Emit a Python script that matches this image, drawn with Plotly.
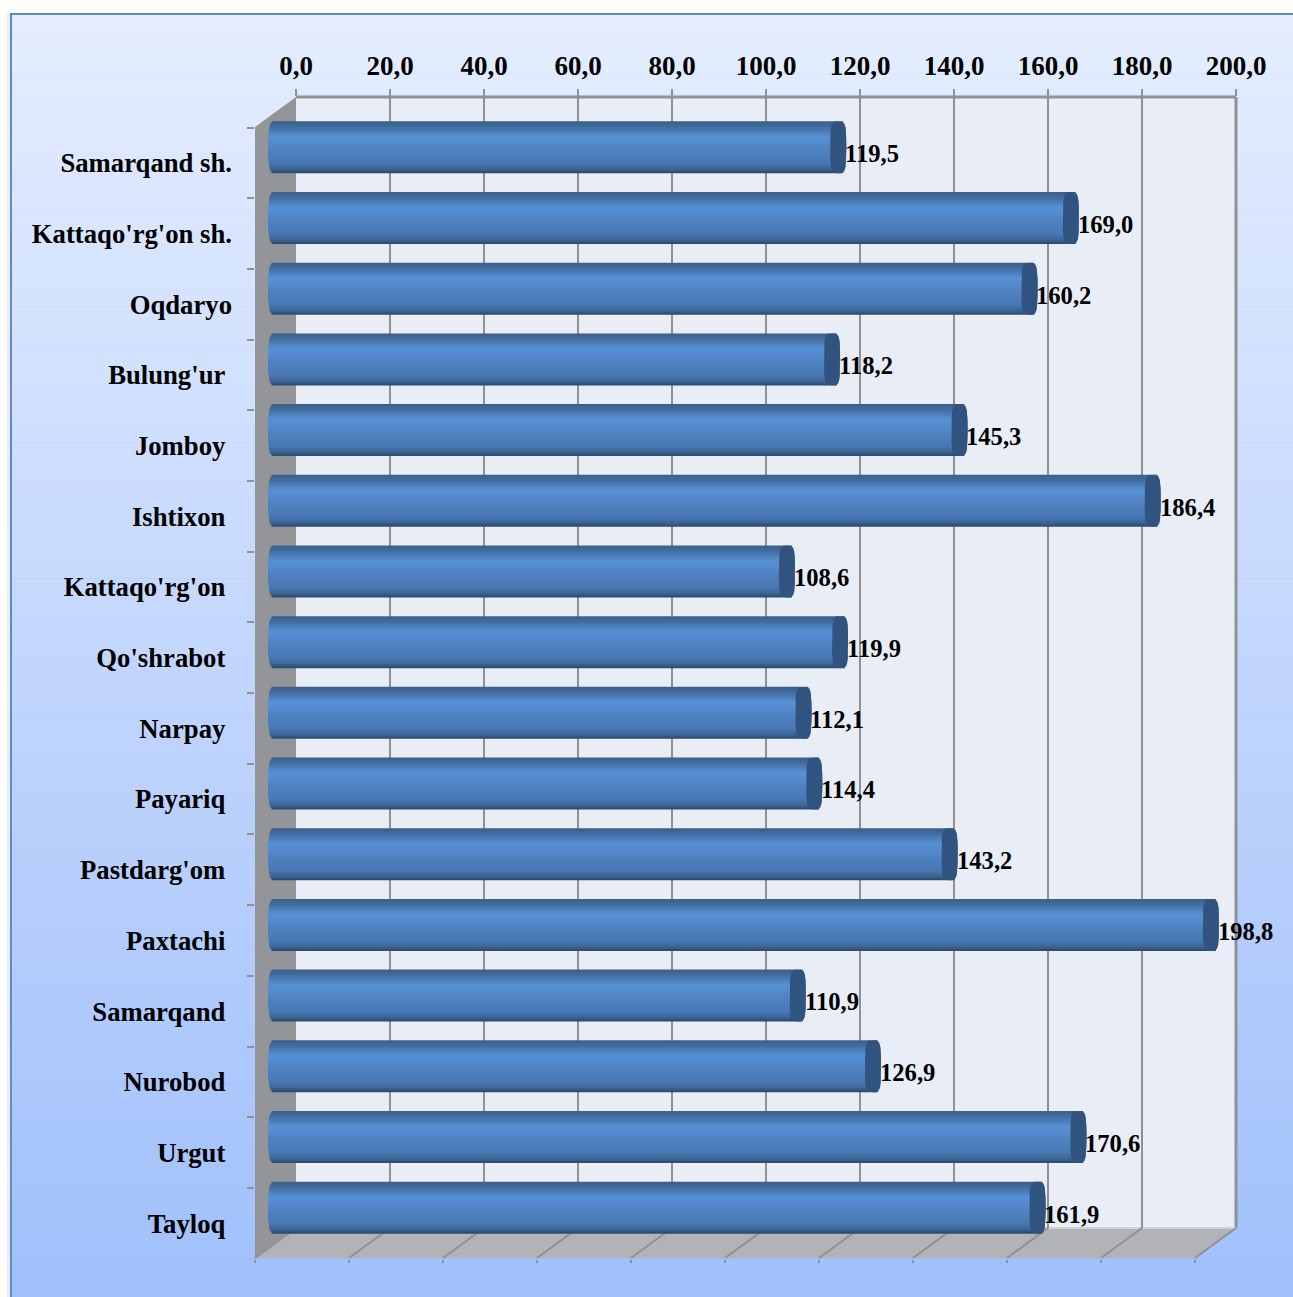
import numpy as np
import plotly.graph_objects as go

categories = ["Samarqand sh.", "Kattaqo'rg'on sh.", "Oqdaryo", "Bulung'ur\u00a0", "Jomboy\u00a0", "Ishtixon\u00a0",
              "Kattaqo'rg'on\u00a0", "Qo'shrabot\u00a0", "Narpay\u00a0", "Payariq\u00a0", "Pastdarg'om\u00a0",
              "Paxtachi\u00a0", "Samarqand\u00a0", "Nurobod\u00a0", "Urgut\u00a0", "Tayloq\u00a0"]
values = [119.5, 169.0, 160.2, 118.2, 145.3, 186.4, 108.6, 119.9, 112.1, 114.4, 143.2, 198.8, 110.9, 126.9, 170.6, 161.9]
tick_values = [0, 20, 40, 60, 80, 100, 120, 140, 160, 180, 200]

W, H = 1293, 1297
FONT = "Liberation Serif"
GRID = "#8f9193"
# vertical shading of the cylinders, (position, rgb)
shade_stops = [(0.0, (58, 94, 138)), (0.10, (66, 108, 158)), (0.30, (88, 145, 214)), (0.55, (80, 130, 194)),
               (0.80, (73, 120, 180)), (0.92, (60, 100, 150)), (1.0, (42, 70, 104))]
bg_top, bg_bottom = (228, 237, 255), (161, 192, 251)

px = lambda x: x / W
py = lambda y: 1 - y / H

def hex_mix(t, stops):
    pos = [s[0] for s in stops]
    return "rgb({},{},{})".format(*[int(round(np.interp(t, pos, [s[1][i] for s in stops]))) for i in range(3)])

def paper_rect(x0, y0, x1, y1, color):
    return dict(type="rect", xref="paper", yref="paper", x0=px(x0), x1=px(x1), y0=py(y0), y1=py(y1),
                fillcolor=color, line_width=0, layer="below")

def paper_poly(points, color, line=None):
    path = "M" + " L".join(f"{px(x)},{py(y)}" for x, y in points) + " Z"
    return dict(type="path", xref="paper", yref="paper", path=path, fillcolor=color,
                line=dict(width=0) if line is None else line, layer="below")

def paper_line(x0, y0, x1, y1, color, width=2):
    return dict(type="line", xref="paper", yref="paper", x0=px(x0), x1=px(x1), y0=py(y0), y1=py(y1),
                line=dict(color=color, width=width), layer="below")

# frame and background
shapes = [paper_rect(7, 13, W, H, "#eeeeee"), paper_rect(10, 13, W, H, "#5b8bc9")]
n_bg = 66
for i in range(n_bg):
    t = i / (n_bg - 1)
    color = "rgb({},{},{})".format(*[int(round(a + (b - a) * t)) for a, b in zip(bg_top, bg_bottom)])
    y0 = 15 + (H - 15) * i / n_bg
    y1 = 15 + (H - 15) * (i + 1) / n_bg
    shapes.append(paper_rect(12, y0, W, y1 + 0.5, color))

# 3d box: back wall, left wall, floor
shapes.append(paper_rect(296, 97, 1236, 1228, "#e9edf6"))
shapes.append(paper_poly([(296, 97), (255, 127), (255, 1258), (296, 1228)], "#939598"))
shapes.append(paper_poly([(255, 1258), (296, 1228), (1236, 1228), (1195, 1258)], "#b1b3b6"))
shapes.append(paper_line(296, 97, 1236, 97, GRID, 3))
shapes.append(paper_line(1236, 97, 1236, 1228, GRID, 3))
shapes.append(paper_line(296, 1228, 1236, 1228, "#d0d2d6", 2))
for v in tick_values:
    back = 296 + v * 4.7
    shapes.append(paper_line(back, 1228, back - 41, 1258, GRID, 2))

fig = go.Figure()

# back wall axis (top ticks and gridlines)
fig.add_trace(go.Scatter(x=values, y=values, mode="markers", marker_opacity=0, showlegend=False, hoverinfo="skip",
                         xaxis="x", yaxis="y"))

# cylinders: stacked bars make up the vertical shading, painted from both edges towards the middle
y_pos = np.arange(len(categories))
bar_w = 52 / 70.7
cap_hw = 8 / 4.7
cap_n = 4
n_bands = 26
band_order = [i for pair in zip(range(n_bands // 2), range(n_bands - 1, n_bands // 2 - 1, -1)) for i in pair]
for b in band_order:
    t = (b + 0.5) / n_bands
    e = cap_hw * (1 - abs(2 * t - 1) ** cap_n) ** (1 / cap_n)
    if b < n_bands // 2:
        off, wid = -bar_w / 2 + bar_w * b / n_bands, bar_w * (0.5 - b / n_bands) + 0.01
    else:
        off, wid = -0.01, bar_w * ((b + 1) / n_bands - 0.5) + 0.01
    fig.add_trace(go.Bar(y=y_pos, x=[v + 2 * e for v in values], base=-e, orientation="h", width=wid, offset=off,
                         marker=dict(color=hex_mix(t, shade_stops), line_width=0), cliponaxis=False,
                         showlegend=False, hoverinfo="skip", xaxis="x2", yaxis="y2"))

# end caps
th = np.linspace(0, 2 * np.pi, 73)
cap_x, cap_y = [], []
for v, p in zip(values, y_pos):
    cap_x += list(v + cap_hw * np.sign(np.cos(th)) * np.abs(np.cos(th)) ** (2 / cap_n)) + [None]
    cap_y += list(p + bar_w / 2 * np.sign(np.sin(th)) * np.abs(np.sin(th)) ** (2 / cap_n)) + [None]
fig.add_trace(go.Scatter(x=cap_x, y=cap_y, mode="lines", fill="toself", fillcolor="#30547f", line=dict(width=0),
                         cliponaxis=False, showlegend=False, hoverinfo="skip", xaxis="x2", yaxis="y2"))

# front axis carrying the category labels
fig.add_trace(go.Scatter(x=values, y=categories, mode="markers", marker_opacity=0, showlegend=False, hoverinfo="skip",
                         xaxis="x3", yaxis="y3"))

annotations = [dict(x=v, y=p, xref="x2", yref="y2", text=f"{v:.1f}".replace(".", ","), showarrow=False,
                    xanchor="left", yanchor="middle", xshift=cap_hw * 4.7 - 1, yshift=-6.4, borderpad=0, borderwidth=0,
                    font=dict(family=FONT, size=24.6, color="#000000", weight="bold"))
               for v, p in zip(values, y_pos)]

fig.update_layout(
    width=W, height=H, margin=dict(l=0, r=0, t=0, b=0), autosize=False,
    paper_bgcolor="white", plot_bgcolor="rgba(0,0,0,0)", barmode="overlay", separators=",.",
    shapes=shapes, annotations=annotations, hovermode=False,
    xaxis=dict(domain=[px(296), px(1236)], range=[0, 200], side="top", anchor="y", tickvals=tick_values,
               tickformat=".1f", ticks="outside", ticklen=7, tickwidth=2, tickcolor=GRID, showgrid=True,
               gridcolor=GRID, gridwidth=2, zeroline=False, showline=False, automargin=False, ticklabelstandoff=3,
               tickfont=dict(family=FONT, size=27, color="#000000", weight="bold")),
    yaxis=dict(domain=[py(1228), py(97)], range=[0, 1], anchor="x", visible=False, automargin=False),
    # wider range than the visible scale so the rounded bar ends are not cut by the axis limits
    xaxis2=dict(domain=[px(276.5 - 47), px(1216.5 + 47)], range=[-10, 210], anchor="y2", visible=False, automargin=False),
    yaxis2=dict(domain=[py(1243), py(112)], range=[15.5, -0.5], anchor="x2", visible=False, automargin=False),
    xaxis3=dict(domain=[px(255), px(1195)], range=[0, 200], anchor="y3", side="bottom", tickvals=tick_values,
                ticks="outside", ticklen=3, tickwidth=2, tickcolor=GRID, showticklabels=False, showgrid=False,
                zeroline=False, showline=False, automargin=False),
    yaxis3=dict(domain=[py(1258.6), py(127.6)], type="category", categoryorder="array", categoryarray=categories,
                range=[15.5, -0.5], anchor="x3", side="left", tickson="boundaries", ticks="outside", ticklen=7,
                tickwidth=2, tickcolor=GRID, showgrid=False, zeroline=False, showline=False, ticklabelstandoff=22,
                automargin=False, tickfont=dict(family=FONT, size=26.7, color="#000000", weight="bold")),
)

fig.write_html("out.html", config=dict(displayModeBar=False),
               post_script="document.body.style.margin='0';document.body.style.overflow='hidden';")
